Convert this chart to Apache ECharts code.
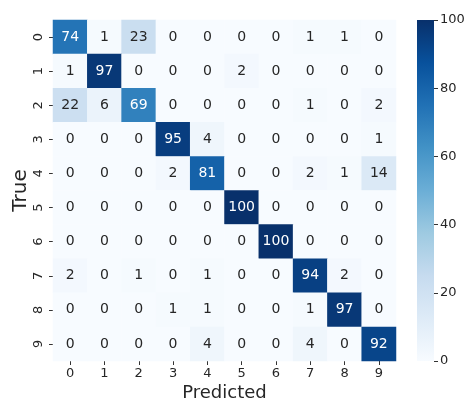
<!DOCTYPE html>
<html>
<head>
<meta charset="utf-8">
<script src="https://cdn.jsdelivr.net/npm/echarts@6/dist/echarts.min.js"></script>
<style>
  html, body { margin: 0; padding: 0; background: #fff; }
  #chart { width: 466px; height: 401px; }
</style>
</head>
<body>
<div id="chart"></div>
<script>
// Class labels for both axes
const predictedLabels = ['0', '1', '2', '3', '4', '5', '6', '7', '8', '9'];
const trueLabels = ['0', '1', '2', '3', '4', '5', '6', '7', '8', '9'];

// Confusion matrix rows (true class) by columns (predicted class)
const row0 = [74, 1, 23, 0, 0, 0, 0, 1, 1, 0];
const row1 = [1, 97, 0, 0, 0, 2, 0, 0, 0, 0];
const row2 = [22, 6, 69, 0, 0, 0, 0, 1, 0, 2];
const row3 = [0, 0, 0, 95, 4, 0, 0, 0, 0, 1];
const row4 = [0, 0, 0, 2, 81, 0, 0, 2, 1, 14];
const row5 = [0, 0, 0, 0, 0, 100, 0, 0, 0, 0];
const row6 = [0, 0, 0, 0, 0, 0, 100, 0, 0, 0];
const row7 = [2, 0, 1, 0, 1, 0, 0, 94, 2, 0];
const row8 = [0, 0, 0, 1, 1, 0, 0, 1, 97, 0];
const row9 = [0, 0, 0, 0, 4, 0, 0, 4, 0, 92];
const matrix = [row0, row1, row2, row3, row4, row5, row6, row7, row8, row9];

// Colour bar scale
const colorMin = 0;
const colorMax = 100;
const colorTicks = [0, 20, 40, 60, 80, 100];

// Matplotlib "Blues" colour ramp
const blues = ['#f7fbff', '#deebf7', '#c6dbef', '#9ecae1', '#6baed6', '#4292c6', '#2171b5', '#08519c', '#08306b'];

const FONT = 'DejaVu Sans';
const heatData = [];
matrix.forEach((row, r) => {
  row.forEach((v, c) => {
    heatData.push({
      value: [c, r, v],
      label: { color: v >= 55 ? '#ffffff' : '#262626' }
    });
  });
});

const chart = echarts.init(document.getElementById('chart'), null, { renderer: 'canvas' });

const gradientStops = blues.map((col, i) => ({ offset: i / (blues.length - 1), color: col }));

chart.setOption({
  backgroundColor: '#ffffff',
  animation: false,
  grid: [
    { left: 53, top: 20, width: 343, height: 341, outerBoundsMode: 'none', containLabel: false },
    { left: 417, top: 20, width: 17, height: 341, outerBoundsMode: 'none', containLabel: false }
  ],
  xAxis: [
    {
      type: 'category', gridIndex: 0, data: predictedLabels,
      position: 'bottom',
      name: 'Predicted', nameLocation: 'middle', nameGap: 23, nameMoveOverlap: false,
      nameTextStyle: { fontFamily: FONT, fontSize: 18, color: '#262626' },
      axisLine: { show: false },
      axisTick: { show: true, alignWithLabel: true, length: 4, lineStyle: { color: '#333' } },
      axisLabel: { fontFamily: FONT, fontSize: 13, color: '#262626', margin: 6 },
      splitLine: { show: false }
    },
    {
      type: 'category', gridIndex: 1, data: [''],
      show: false
    }
  ],
  yAxis: [
    {
      type: 'category', gridIndex: 0, data: trueLabels, inverse: true,
      name: 'True', nameLocation: 'middle', nameGap: 22, nameRotate: 90, nameMoveOverlap: false,
      nameTextStyle: { fontFamily: FONT, fontSize: 20, color: '#262626' },
      axisLine: { show: false },
      axisTick: { show: true, alignWithLabel: true, length: 4, lineStyle: { color: '#333' } },
      axisLabel: { fontFamily: FONT, fontSize: 13, color: '#262626', rotate: 90, margin: 8 },
      splitLine: { show: false }
    },
    {
      type: 'value', gridIndex: 1, min: colorMin, max: colorMax, interval: 20,
      position: 'right',
      axisLine: { show: false },
      axisTick: { show: true, length: 4, lineStyle: { color: '#333' } },
      axisLabel: {
        fontFamily: FONT, fontSize: 13, color: '#262626', margin: 6,
        formatter: v => colorTicks.includes(v) ? String(v) : ''
      },
      splitLine: { show: false }
    }
  ],
  visualMap: {
    show: false, seriesIndex: 0, dimension: 2,
    min: colorMin, max: colorMax,
    inRange: { color: blues }
  },
  series: [
    {
      type: 'heatmap', xAxisIndex: 0, yAxisIndex: 0,
      data: heatData,
      label: { show: true, fontFamily: FONT, fontSize: 14 },
      itemStyle: { borderWidth: 0 },
      emphasis: { disabled: true }
    },
    {
      type: 'bar', xAxisIndex: 1, yAxisIndex: 1,
      data: [colorMax], barWidth: '100%',
      itemStyle: {
        color: new echarts.graphic.LinearGradient(0, 1, 0, 0, gradientStops)
      },
      silent: true
    }
  ]
});
</script>
</body>
</html>
